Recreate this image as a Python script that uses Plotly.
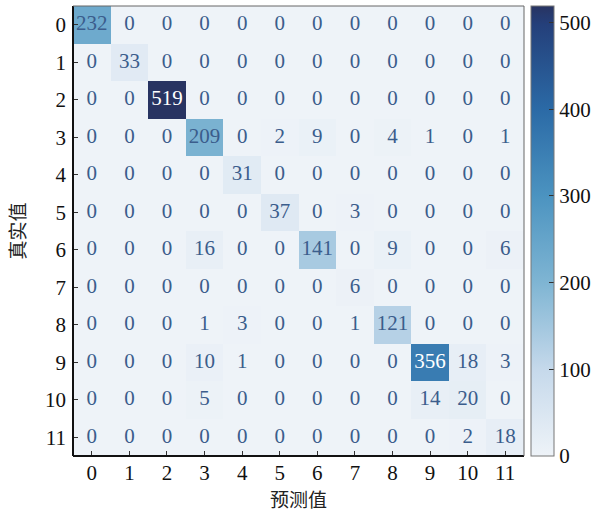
import plotly.graph_objects as go

# Confusion matrix: rows = true class, columns = predicted class
labels = [str(i) for i in range(12)]
row_0 = [232, 0, 0, 0, 0, 0, 0, 0, 0, 0, 0, 0]
row_1 = [0, 33, 0, 0, 0, 0, 0, 0, 0, 0, 0, 0]
row_2 = [0, 0, 519, 0, 0, 0, 0, 0, 0, 0, 0, 0]
row_3 = [0, 0, 0, 209, 0, 2, 9, 0, 4, 1, 0, 1]
row_4 = [0, 0, 0, 0, 31, 0, 0, 0, 0, 0, 0, 0]
row_5 = [0, 0, 0, 0, 0, 37, 0, 3, 0, 0, 0, 0]
row_6 = [0, 0, 0, 16, 0, 0, 141, 0, 9, 0, 0, 6]
row_7 = [0, 0, 0, 0, 0, 0, 0, 6, 0, 0, 0, 0]
row_8 = [0, 0, 0, 1, 3, 0, 0, 1, 121, 0, 0, 0]
row_9 = [0, 0, 0, 10, 1, 0, 0, 0, 0, 356, 18, 3]
row_10 = [0, 0, 0, 5, 0, 0, 0, 0, 0, 14, 20, 0]
row_11 = [0, 0, 0, 0, 0, 0, 0, 0, 0, 0, 2, 18]
matrix = [row_0, row_1, row_2, row_3, row_4, row_5,
          row_6, row_7, row_8, row_9, row_10, row_11]
colorbar_ticks = [0, 100, 200, 300, 400, 500]

zmax = max(max(r) for r in matrix)
zmin = min(min(r) for r in matrix)
threshold = (zmax + zmin) / 2.0

colorscale = [
    [0.00, "#eef3f8"],
    [0.19, "#c6d9eb"],
    [0.385, "#7fb5d3"],
    [0.58, "#4b93c0"],
    [0.77, "#2b6aa6"],
    [0.96, "#243f7a"],
    [1.00, "#283462"],
]

serif = "Liberation Serif, Times New Roman, serif"
cjk = "Noto Sans CJK SC"
ink = "#3b5d8c"

xs, ys, texts, colors = [], [], [], []
for i, row in enumerate(matrix):
    for j, v in enumerate(row):
        xs.append(j)
        ys.append(i)
        texts.append(str(v))
        colors.append("white" if v > threshold else ink)

fig = go.Figure()
fig.add_trace(go.Heatmap(
    z=matrix,
    x=list(range(12)),
    y=list(range(12)),
    zmin=0,
    zmax=zmax,
    colorscale=colorscale,
    xgap=0, ygap=0,
    hoverinfo="skip",
    colorbar=dict(
        x=1.0155, xanchor="left", xpad=0, ypad=0,
        y=0.5, yanchor="middle",
        len=1.0, lenmode="fraction",
        thickness=23,
        outlinecolor="#777777", outlinewidth=1,
        tickvals=colorbar_ticks,
        ticktext=[str(t) for t in colorbar_ticks],
        ticks="inside", ticklen=5, tickcolor="#333333",
        tickfont=dict(family=serif, size=21, color="#111111"),
    ),
))
fig.add_trace(go.Scatter(
    x=xs, y=ys, mode="text", text=texts,
    textfont=dict(family=serif, size=21, color=colors),
    hoverinfo="skip", showlegend=False,
))

# Dark left and bottom spines over the lighter frame
fig.add_shape(type="line", xref="paper", yref="paper", x0=0, x1=0, y0=0, y1=1,
              line=dict(color="#111111", width=2))
fig.add_shape(type="line", xref="paper", yref="paper", x0=0, x1=1, y0=0, y1=0,
              line=dict(color="#111111", width=2))
fig.add_shape(type="line", xref="paper", yref="paper", x0=0, x1=1, y0=1, y1=1,
              line=dict(color="#666666", width=1))
fig.add_shape(type="line", xref="paper", yref="paper", x0=1, x1=1, y0=0, y1=1,
              line=dict(color="#666666", width=1))

fig.update_layout(
    width=610, height=515,
    margin=dict(l=73, r=86, t=6, b=59, autoexpand=False),
    paper_bgcolor="white",
    plot_bgcolor="white",
    xaxis=dict(
        tickvals=list(range(12)), ticktext=labels,
        range=[-0.5, 11.5], showgrid=False, zeroline=False,
        ticks="inside", ticklen=5, tickcolor="#333333",
        ticklabelstandoff=2,
        tickfont=dict(family=serif, size=21, color="#111111"),
        title=dict(text="预测值", font=dict(family=cjk, size=19, color="#222222"), standoff=2),
        showline=False,
    ),
    yaxis=dict(
        tickvals=list(range(12)), ticktext=labels,
        range=[11.5, -0.5], showgrid=False, zeroline=False,
        ticks="inside", ticklen=5, tickcolor="#333333",
        ticklabelstandoff=6,
        tickfont=dict(family=serif, size=21, color="#111111"),
        title=dict(text="真实值", font=dict(family=cjk, size=19, color="#222222"), standoff=14),
        showline=False,
    ),
)

fig.write_html("out.html")
